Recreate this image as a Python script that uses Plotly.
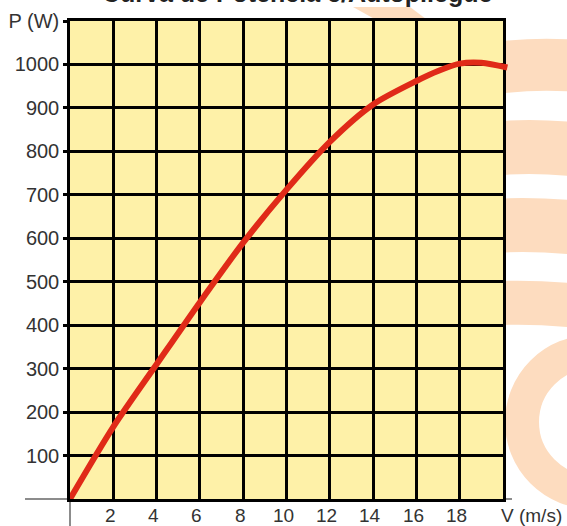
import plotly.graph_objects as go

# ---- data ----
speed = [0, 2, 4, 6, 8, 10, 12, 14, 16, 17, 18, 19, 20.2]
power = [0, 166, 310, 453, 590, 712, 822, 908, 962, 985, 1002, 1004, 993]
x_ticks = [2, 4, 6, 8, 10, 12, 14, 16, 18]
x_labels = [str(v) for v in x_ticks]
y_ticks = [100, 200, 300, 400, 500, 600, 700, 800, 900, 1000, 1100]
y_labels = [str(v) for v in y_ticks[:-1]] + ["P (W)"]
title_text = "Curva de Potencia c/Autopliegue"
x_title = "V (m/s)"

# ---- geometry ----
W, H = 567, 526
L, R, T, B = 70, 59, 21, 27
pw = W - L - R
ph = H - T - B
grid_w = 433
dom = grid_w / pw


def px(x):
    return (x - L) / pw


def py(y):
    return (H - B - y) / ph


FONT = "Liberation Sans, Arial, sans-serif"
TXT = "#333333"
WM = "#fddcbf"

fig = go.Figure()
fig.add_trace(go.Scatter(
    x=speed, y=power, mode="lines",
    line=dict(color="#e02a18", width=6, shape="spline", smoothing=0.8),
    xaxis="x2", yaxis="y2", hoverinfo="skip", showlegend=False,
))

shapes = []


def band(x0, y0, xc, yc, x1, y1, w):
    return dict(type="path", xref="paper", yref="paper", layer="below",
                path=f"M {px(x0)},{py(y0)} Q {px(xc)},{py(yc)} {px(x1)},{py(y1)}",
                line=dict(color=WM, width=w))


# watermark (decorative background)
shapes.append(band(470, 72, 520, 62, 580, 66, 52))
shapes.append(band(470, 152, 520, 143, 580, 150, 54))
shapes.append(band(470, 228, 520, 222, 580, 228, 54))
shapes.append(band(470, 305, 520, 300, 580, 306, 44))
shapes.append(dict(type="circle", xref="paper", yref="paper", layer="below",
                   x0=px(522), x1=px(662), y0=py(492), y1=py(352),
                   line=dict(color=WM, width=34)))
shapes.append(dict(type="path", xref="paper", yref="paper", layer="below",
                   path=f"M {px(353)},{py(7)} L {px(410)},{py(7)} L {px(430)},{py(22)} L {px(380)},{py(22)} Z",
                   fillcolor=WM, line=dict(width=0)))
# gray axis lines extending outside the grid
shapes.append(dict(type="line", xref="paper", yref="paper", layer="below",
                   x0=px(25), x1=px(512), y0=0, y1=0,
                   line=dict(color="#8c8c8c", width=2)))
shapes.append(dict(type="line", xref="paper", yref="paper", layer="below",
                   x0=0, x1=0, y0=py(526), y1=1,
                   line=dict(color="#8c8c8c", width=2)))
# yellow plot area
shapes.append(dict(type="rect", xref="x", yref="y", layer="below",
                   x0=0, x1=20, y0=0, y1=1100,
                   fillcolor="#fef1a8", line=dict(width=0)))

annotations = [
    dict(text=lab, xref="x", yref="paper", x=v, y=py(515), xshift=-3,
         xanchor="center", yanchor="middle", showarrow=False,
         font=dict(family=FONT, size=19, color=TXT))
    for v, lab in zip(x_ticks, x_labels)
]
annotations += [
    dict(text=x_title, xref="paper", yref="paper", x=px(531), y=py(515),
         xanchor="center", yanchor="middle", showarrow=False,
         font=dict(family=FONT, size=19, color=TXT)),
    dict(text="<b>" + title_text + "</b>", xref="paper", yref="paper",
         x=px(297), y=py(-7), xanchor="center", yanchor="middle",
         showarrow=False, font=dict(family=FONT, size=25, color="#222222")),
]

fig.update_layout(
    width=W, height=H,
    margin=dict(l=L, r=R, t=T, b=B, pad=0, autoexpand=False),
    paper_bgcolor="white",
    plot_bgcolor="rgba(0,0,0,0)",
    showlegend=False,
    font=dict(family=FONT, color=TXT, size=20),
    shapes=shapes,
    xaxis=dict(
        domain=[0, dom], range=[0, 20], anchor="y", automargin=False,
        tickmode="array", tickvals=x_ticks, showticklabels=False,
        showgrid=True, gridcolor="black", gridwidth=2.5,
        showline=True, mirror=True, linecolor="black", linewidth=2.5,
        zeroline=False, ticks="",
    ),
    yaxis=dict(
        domain=[0, 1], range=[0, 1100], anchor="x", automargin=False,
        tickmode="array", tickvals=y_ticks, ticktext=y_labels,
        showgrid=True, gridcolor="black", gridwidth=2.5,
        showline=True, mirror=True, linecolor="black", linewidth=2.5,
        zeroline=False, ticks="outside", ticklen=4, tickwidth=2.5, tickcolor="black",
        tickfont=dict(family=FONT, size=20, color=TXT),
    ),
    xaxis2=dict(domain=[0, 1], range=[0, 20 / dom], anchor="y2", visible=False, automargin=False),
    yaxis2=dict(domain=[0, 1], range=[0, 1100], anchor="x2", visible=False, automargin=False),
    annotations=annotations,
)

fig.write_html("out.html", config={"displayModeBar": False},
               post_script="document.body.style.margin='0px';document.body.style.overflow='hidden';")
